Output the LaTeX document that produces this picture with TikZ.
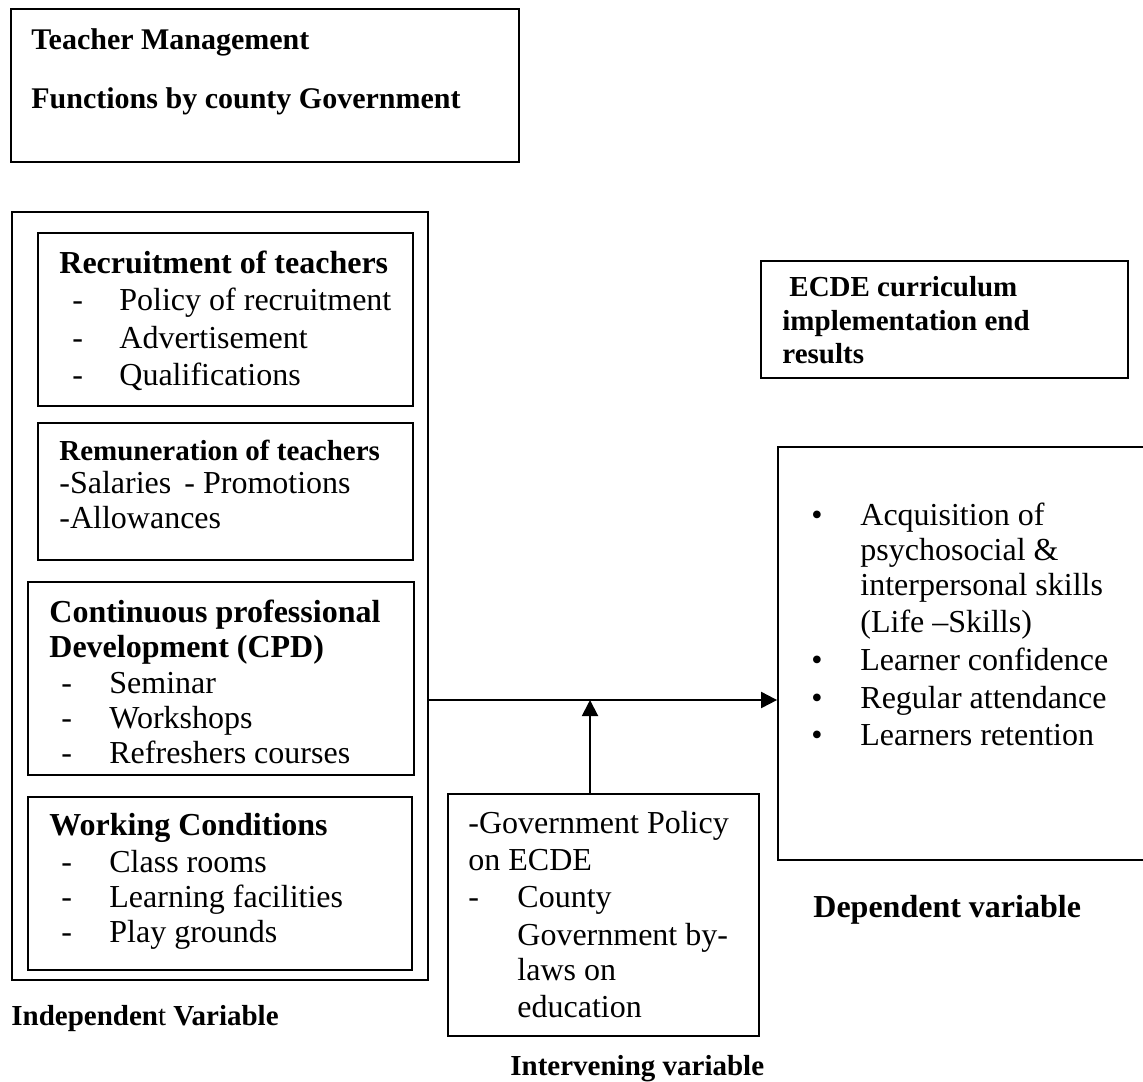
\documentclass[tikz,border=0pt]{standalone}
\usepackage{fontspec}
\setmainfont{Liberation Serif}
\usetikzlibrary{arrows.meta,fit}

\newcommand{\bodysize}{\fontsize{16}{19}\selectfont}
\newcommand{\headsize}{\fontsize{16}{19}\selectfont\bfseries}
\newcommand{\smallhead}{\fontsize{14.5}{17}\selectfont\bfseries}

\tikzset{
  box/.style={draw, line width=0.9pt, inner sep=0pt},
  txt/.style={anchor=base west, inner sep=0pt, font=\bodysize},
  head/.style={anchor=base west, inner sep=0pt, font=\headsize},
  subhead/.style={anchor=base west, inner sep=0pt, font=\smallhead},
  arr/.style={line width=1pt, -{Triangle[length=8pt, width=8pt]}},
}

\begin{document}
\begin{tikzpicture}[x=0.5pt, y=-0.5pt]
    \useasboundingbox (0,0) rectangle (1143,1081);

    % Teacher management functions (top)
    \node[box, fit={(11,9) (519,162)}] (tm) {};
    \node[subhead, font=\fontsize{15}{18}\selectfont\bfseries] (tm1) at (31,50) {Teacher Management};
    \node[subhead, font=\fontsize{15}{18}\selectfont\bfseries] (tm2) at (31,108) {Functions by county Government};

    % Independent variable: outer box
    \node[box, fit={(12,212) (428,980)}] (indep) {};
    \node[subhead] (indeplbl) at (11,1025) {Independen\textmd{t} Variable};

    % Recruitment of teachers
    \node[box, fit={(38,233) (413,406)}] (rec) {};
    \node[head] (rech) at (59,273) {Recruitment of teachers};
    \foreach \t/\y [count=\i] in {Policy of recruitment/310, Advertisement/348, Qualifications/385} {
        \node[txt] (recd\i) at (72,\y) {-};
        \node[txt] (rec\i) at (119,\y) {\t};
    }

    % Remuneration of teachers
    \node[box, fit={(38,423) (413,560)}] (rem) {};
    \node[subhead] (remh) at (59,460) {Remuneration of teachers};
    \node[txt] (rem1) at (59,493) {-Salaries};
    \node[txt] (rem2) at (184,493) {- Promotions};
    \node[txt] (rem3) at (59,528) {-Allowances};

    % Continuous professional development
    \node[box, fit={(28,582) (414,775)}] (cpd) {};
    \node[head] (cpdh1) at (49,622) {Continuous professional};
    \node[head] (cpdh2) at (49,657) {Development (CPD)};
    \foreach \t/\y [count=\i] in {Seminar/693, Workshops/728, Refreshers courses/763} {
        \node[txt] (cpdd\i) at (61,\y) {-};
        \node[txt] (cpd\i) at (109,\y) {\t};
    }

    % Working conditions
    \node[box, fit={(28,797) (412,970)}] (wc) {};
    \node[head] (wch) at (49,835) {Working Conditions};
    \foreach \t/\y [count=\i] in {Class rooms/872, Learning facilities/907, Play grounds/942} {
        \node[txt] (wcd\i) at (61,\y) {-};
        \node[txt] (wc\i) at (109,\y) {\t};
    }

    % Intervening variable
    \node[box, fit={(448,794) (759,1036)}] (interv) {};
    \node[txt] (int1) at (468,833) {-Government Policy};
    \node[txt] (int2) at (468,870) {on ECDE};
    \node[txt] (intd) at (468,907) {-};
    \foreach \t/\y [count=\i from 3] in {County/907, Government by-/945, laws on/980, education/1017} {
        \node[txt] (int\i) at (517,\y) {\t};
    }
    \node[subhead] (intlbl) at (510,1075) {Intervening variable};

    % ECDE curriculum end results
    \node[box, fit={(761,261) (1128,378)}] (res) {};
    \node[subhead] (res1) at (789,296) {ECDE curriculum};
    \node[subhead] (res2) at (782,330) {implementation end};
    \node[subhead] (res3) at (782,363) {results};

    % Dependent variable (right edge runs off the page)
    \node[box, fit={(778,447) (1152,860)}] (dep) {};
    \foreach \y in {525, 670, 708, 745} {
        \node[txt] (bul\y) at (811,\y) {\textbullet};
    }
    \foreach \t/\y [count=\i] in {Acquisition of/525, psychosocial \&/560, interpersonal skills/595,
        (Life –Skills)/632, Learner confidence/670, Regular attendance/708, Learners retention/745} {
        \node[txt] (dep\i) at (860,\y) {\t};
    }
    \node[head] (deplbl) at (813,917) {Dependent variable};

    % Connectors
    \coordinate (joint) at (590,700);
    \draw[arr] (indep.east |- joint) -- (dep.west |- joint);
    \draw[arr] (interv.north -| joint) -- (joint);
\end{tikzpicture}
\end{document}
